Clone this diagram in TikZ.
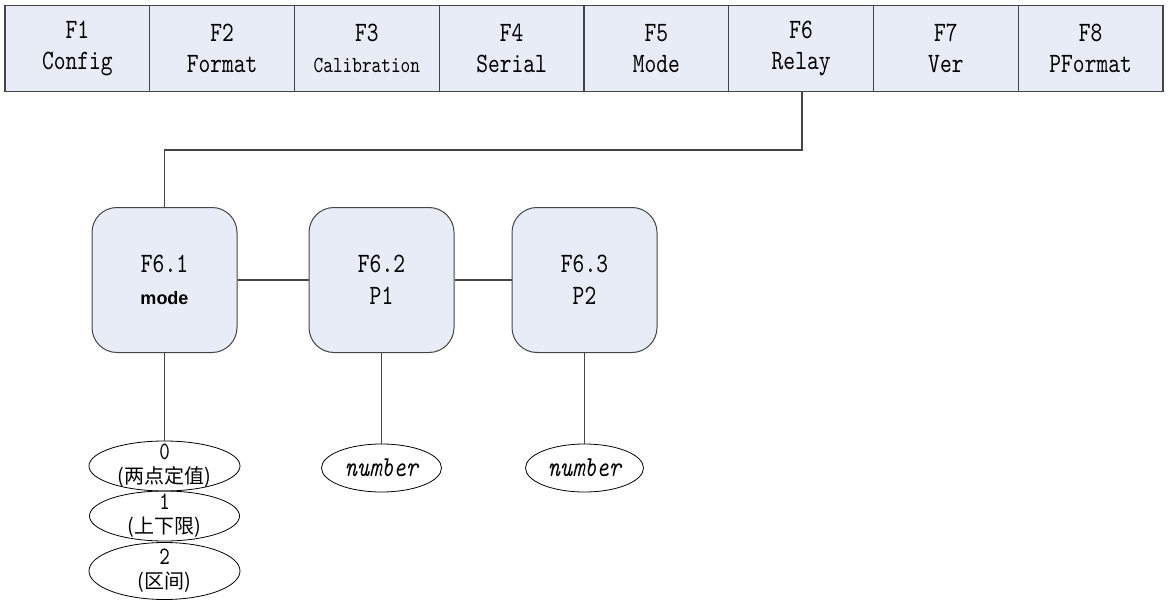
\documentclass[tikz,border=0pt]{standalone}
\usepackage{fontspec}
\newfontfamily\monof{lmmono10-regular}[Extension=.otf,FakeStretch=0.8]
\newfontfamily\monoi{lmmono10-italic}[Extension=.otf,FakeStretch=0.8]
\newfontfamily\sansb{Liberation Sans}
\newfontfamily\cjk{Noto Sans CJK SC}
\usetikzlibrary{shapes.geometric}
\definecolor{boxfill}{HTML}{E8ECF7}
\definecolor{edge}{HTML}{444444}
\tikzset{
  topbox/.style={draw=edge,line width=1.2pt,fill=boxfill,minimum width=144.75pt,minimum height=86pt,inner sep=0pt,align=center,font=\monof\fontsize{28}{31}\selectfont},
  subbox/.style={draw=edge,line width=1pt,fill=boxfill,rounded corners=25pt,minimum width=145pt,minimum height=145pt,inner sep=0pt,align=center,font=\monof\fontsize{28}{32}\selectfont},
  oval/.style={draw=black,line width=0.8pt,ellipse,inner sep=-6pt,align=center,font=\monof\fontsize{25}{24}\selectfont},
  numoval/.style={oval,minimum height=48pt,font=\monoi\fontsize{29}{30}\selectfont},
  link/.style={draw=edge,line width=1.2pt}
}
\begin{document}
\begin{tikzpicture}[x=1pt,y=-1pt]
\useasboundingbox (0,0) rectangle (1168,610);
\foreach \i/\a/\b in {1/F1/Config,2/F2/Format,4/F4/Serial,5/F5/Mode,6/F6/Relay,7/F7/Ver,8/F8/PFormat}{
  \node[topbox] (f\i) at ({5+144.75*(\i-0.5)},48.5) {\a\\\b};
}
\node[topbox] (f3) at ({5+144.75*2.5},48.5) {F3\\{\fontsize{23}{31}\selectfont Calibration}};
\node[subbox] (s1) at (164.5,280) {F6.1\\{\sansb\bfseries\fontsize{18}{32}\selectfont mode}};
\node[subbox] (s2) at (381.5,280) {F6.2\\P1};
\node[subbox] (s3) at (584.5,280) {F6.3\\P2};
\node[oval,minimum width=151pt,minimum height=50pt] (o0) at (164.5,466) {0\\{\cjk\fontsize{20}{24}\selectfont (两点定值)}};
\node[oval,minimum width=150pt,minimum height=50pt] (o1) at (164.5,516) {1\\{\cjk\fontsize{20}{24}\selectfont (上下限)}};
\node[oval,minimum width=151pt,minimum height=57pt] (o2) at (164.5,571) {2\\{\cjk\fontsize{20}{24}\selectfont (区间)}};
\node[numoval,minimum width=120pt] (n1) at (381.5,468) {number};
\node[numoval,minimum width=118pt] (n2) at (584.5,468) {number};
\coordinate (c1) at (802,150);
\coordinate (c2) at (164.5,150);
\draw[link] (f6.south -| c1) -- (c1) -- (c2) -- (s1.north);
\draw[link] (s1.east) -- (s2.west);
\draw[link] (s2.east) -- (s3.west);
\draw[link] (s1.south) -- (o0.north);
\draw[link] (s2.south) -- (n1.north);
\draw[link] (s3.south) -- (n2.north);
\end{tikzpicture}
\end{document}
